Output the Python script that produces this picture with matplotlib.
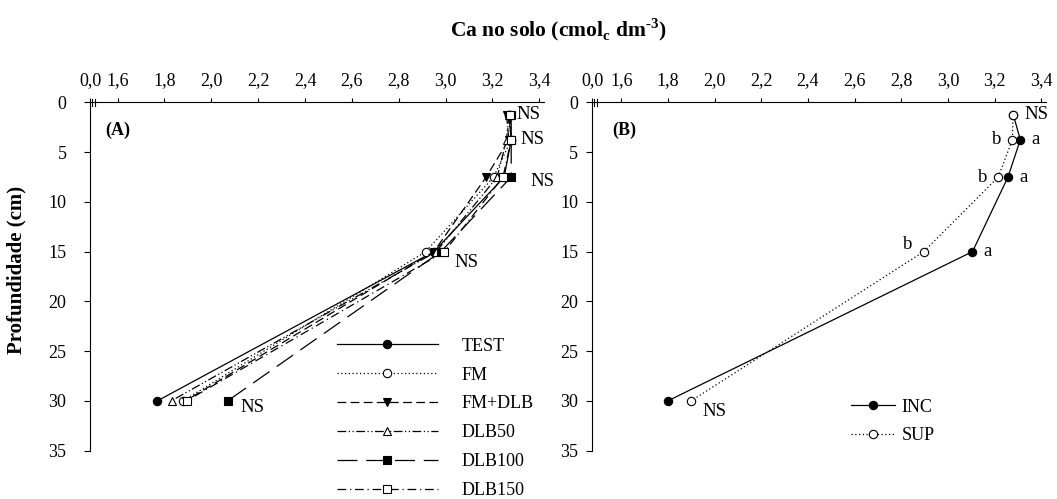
import matplotlib
matplotlib.use("Agg")
import matplotlib.pyplot as plt

plt.rcParams['font.family'] = ['Liberation Serif', 'DejaVu Serif']
plt.rcParams['mathtext.fontset'] = 'custom'
plt.rcParams['mathtext.rm'] = 'Liberation Serif'
plt.rcParams['mathtext.bf'] = 'Liberation Serif:bold'

# ---------------- data ----------------
depth = [1.25, 3.75, 7.5, 15, 30]

test = [3.27, 3.28, 3.25, 2.95, 1.77]
fm = [3.27, 3.28, 3.205, 2.915, 1.88]
fm_dlb = [3.26, 3.27, 3.173, 2.95, 1.89]
dlb50 = [3.27, 3.26, 3.22, 2.96, 1.83]
dlb100 = [3.28, 3.28, 3.28, 2.98, 2.07]
dlb150 = [3.275, 3.28, 3.245, 2.995, 1.895]

inc = [3.28, 3.31, 3.257, 3.105, 1.80]
sup = [3.279, 3.276, 3.215, 2.896, 1.90]

series_a_names = ["TEST", "FM", "FM+DLB", "DLB50", "DLB100", "DLB150"]
series_b_names = ["INC", "SUP"]

x_ticks = [1.6, 1.8, 2.0, 2.2, 2.4, 2.6, 2.8, 3.0, 3.2, 3.4]
x_tick_labels = ["1,6", "1,8", "2,0", "2,2", "2,4", "2,6", "2,8", "3,0", "3,2", "3,4"]
y_ticks = [0, 5, 10, 15, 20, 25, 30, 35]

# significance labels
ns_a_depths = [1.25, 3.75, 7.5, 15, 30]
sig_inc = ["", "a", "a", "a", ""]
sig_sup = ["NS", "b", "b", "b", "NS"]

# ---------------- styles ----------------
styles_a = [
    dict(ls='-', marker='o', mfc='black'),
    dict(ls=(0, (1, 2)), marker='o', mfc='white'),
    dict(ls=(0, (7, 3.5)), marker='v', mfc='black'),
    dict(ls=(0, (7, 2, 1, 2, 1, 2)), marker='^', mfc='white'),
    dict(ls=(0, (16, 7)), marker='s', mfc='black'),
    dict(ls=(0, (7, 3, 1, 3)), marker='s', mfc='white'),
]

W, H = 1057, 499
fig = plt.figure(figsize=(W / 100, H / 100), dpi=100)

ax_top = 102.5
ax_bot = 450.5
axA = fig.add_axes([90 / W, 1 - ax_bot / H, 454 / W, (ax_bot - ax_top) / H])
axB = fig.add_axes([592 / W, 1 - ax_bot / H, 454 / W, (ax_bot - ax_top) / H])

TS = 13
LS = 13.5


def setup(ax, xleft, ypad):
    ax.set_xlim(xleft, 3.42)
    ax.set_ylim(35, 0)
    ax.xaxis.tick_top()
    ax.spines['right'].set_visible(False)
    ax.spines['bottom'].set_visible(False)
    ax.set_xticks([xleft] + x_ticks)
    ax.set_xticklabels(["0,0"] + x_tick_labels)
    ax.set_yticks(y_ticks)
    ax.tick_params(axis='x', direction='out', length=3, width=0.8, labelsize=TS, pad=7)
    ax.tick_params(axis='y', direction='out', length=4, width=0.8, labelsize=TS, pad=ypad)
    for sp in ax.spines.values():
        sp.set_linewidth(0.8)
    # axis break marks
    for dx in (0.005, 0.011):
        ax.plot([dx, dx], [0.99, 1.01], color='black', lw=0.8,
                transform=ax.transAxes, clip_on=False)


setup(axA, 1.482, 13)
setup(axB, 1.4745, 6)

# ---------------- panel A ----------------
all_a = [test, fm, fm_dlb, dlb50, dlb100, dlb150]
handles = []
for name, vals, st in zip(series_a_names, all_a, styles_a):
    ln, = axA.plot(vals, depth, color='black', lw=0.9, linestyle=st['ls'],
                   marker=st['marker'], mfc=st['mfc'], mec='black', ms=6,
                   mew=0.8, label=name, clip_on=False)
    handles.append(ln)

ns_offsets_a = [(4, 0), (7, 0), (14, -3), (7, -8), (9, -5)]
for d, (dx, dy) in zip(ns_a_depths, ns_offsets_a):
    i = depth.index(d)
    xmax = max(s[i] for s in all_a)
    axA.annotate("NS", xy=(xmax, d), xytext=(dx, dy), textcoords='offset points',
                 ha='left', va='center', fontsize=LS)

axA.text(0.033, 0.921, "(A)", transform=axA.transAxes, fontsize=TS,
         fontweight='bold', ha='left', va='center')

axA.legend(handles=handles, loc='upper left', bbox_to_anchor=(0.528, 0.345),
           frameon=False, fontsize=TS, handlelength=5.6, handletextpad=1.3,
           labelspacing=0.66, numpoints=1, borderaxespad=0)

# ---------------- panel B ----------------
lI, = axB.plot(inc, depth, color='black', lw=0.9, ls='-', marker='o', mfc='black',
               mec='black', ms=6, mew=0.8, label="INC", clip_on=False)
lS, = axB.plot(sup, depth, color='black', lw=0.9, ls=(0, (1, 2)), marker='o',
               mfc='white', mec='black', ms=6, mew=0.8, label="SUP", clip_on=False)

for d, vi, vs, si, ss in zip(depth, inc, sup, sig_inc, sig_sup):
    if ss == "NS":
        dy = 0 if d < 5 else -8
        axB.annotate("NS", xy=(vs, d), xytext=(8, dy), textcoords='offset points',
                     ha='left', va='center', fontsize=LS)
    else:
        dy = 5 if d > 10 else 0
        axB.annotate(ss, xy=(vs, d), xytext=(-8, dy), textcoords='offset points',
                     ha='right', va='center', fontsize=LS)
    if si:
        axB.annotate(si, xy=(vi, d), xytext=(8, 0), textcoords='offset points',
                     ha='left', va='center', fontsize=LS)

axB.text(0.044, 0.921, "(B)", transform=axB.transAxes, fontsize=TS,
         fontweight='bold', ha='left', va='center')

axB.legend(handles=[lI, lS], loc='upper left', bbox_to_anchor=(0.555, 0.17),
           frameon=False, fontsize=TS, handlelength=2.4, handletextpad=0.4,
           labelspacing=0.66, numpoints=1, borderaxespad=0)

# ---------------- titles ----------------
fig.text(558 / W, 1 - 30 / H, r"Ca no solo (cmol$_\mathbf{c}$ dm$^{\mathbf{\text{-}3}}$)",
         ha='center', va='center', fontsize=15.5, fontweight='bold')
fig.text(16 / W, 1 - 270 / H, "Profundidade (cm)", rotation=90, ha='center',
         va='center', fontsize=15, fontweight='bold')

fig.savefig("out.png", dpi=100)
